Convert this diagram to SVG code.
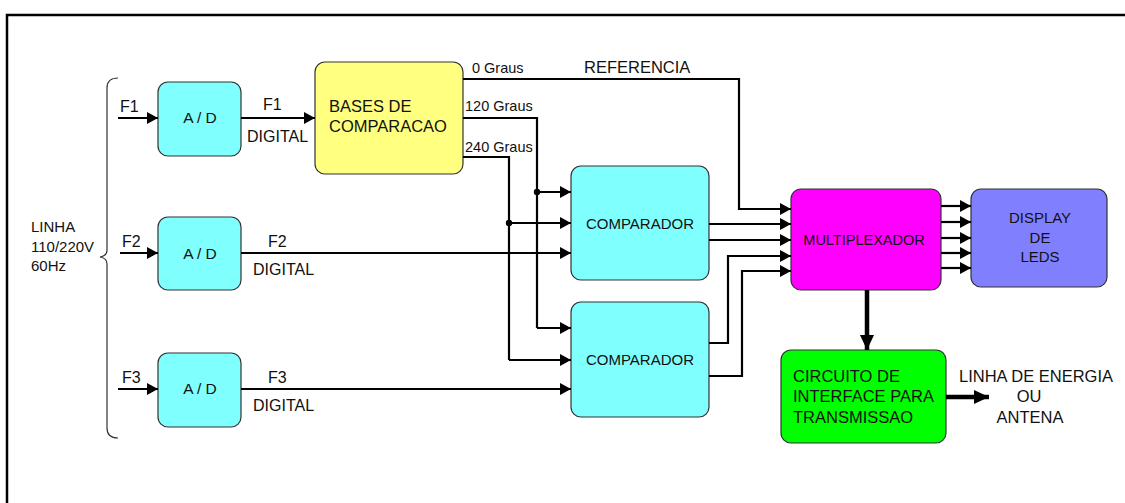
<svg xmlns="http://www.w3.org/2000/svg" width="1125" height="503" viewBox="0 0 1125 503">
<defs>
<marker id="arr" markerUnits="userSpaceOnUse" markerWidth="12" markerHeight="12" refX="11" refY="6" orient="auto">
<path d="M0,0 L11,6 L0,12 z" fill="#000"/>
</marker>
<marker id="arrb" markerUnits="userSpaceOnUse" markerWidth="16" markerHeight="16" refX="15" refY="8" orient="auto">
<path d="M0,1 L15,8 L0,15 z" fill="#000"/>
</marker>
</defs>
<style>
text{font-family:"Liberation Sans",Arial,sans-serif;fill:#111;}
.box{stroke:#333;stroke-width:1.2;}
.ad{fill:#80FFFF;}
.ln{fill:none;stroke:#000;stroke-width:2.2;}
.la{fill:none;stroke:#000;stroke-width:2.2;marker-end:url(#arr);}
.lb{fill:none;stroke:#000;stroke-width:4.5;marker-end:url(#arrb);}
.c{text-anchor:middle;}
</style>
<rect x="0" y="0" width="1125" height="503" fill="#fff"/>
<path d="M7,503 V15 H1125" fill="none" stroke="#000" stroke-width="2.5"/>

<g id="brace">
<path d="M118,78 Q107,78 107,88 V250 Q107,256 100,257 Q107,258 107,264 V428 Q107,438 118,438" fill="none" stroke="#333" stroke-width="1.2"/>
<text x="31" y="232" font-size="15">LINHA</text>
<text x="31" y="252" font-size="15">110/220V</text>
<text x="31" y="271" font-size="15">60Hz</text>
</g>

<g id="ad1">
<rect class="box ad" x="158" y="82" width="83" height="74" rx="10"/>
<text class="c" x="200" y="123" font-size="15.5">A / D</text>
</g>
<g id="ad2">
<rect class="box ad" x="158" y="217" width="83" height="73" rx="10"/>
<text class="c" x="200" y="259" font-size="15.5">A / D</text>
</g>
<g id="ad3">
<rect class="box ad" x="158" y="353" width="83" height="74" rx="10"/>
<text class="c" x="200" y="394" font-size="15.5">A / D</text>
</g>

<g id="bases">
<rect class="box" fill="#FFFF80" x="315" y="62" width="148" height="112" rx="10"/>
<text x="329" y="112" font-size="16.5">BASES DE</text>
<text x="329" y="132" font-size="16.5">COMPARACAO</text>
</g>

<g id="comp1">
<rect class="box ad" x="571" y="166" width="138" height="114" rx="10"/>
<text class="c" x="640" y="229" font-size="15">COMPARADOR</text>
</g>
<g id="comp2">
<rect class="box ad" x="571" y="302" width="138" height="115" rx="10"/>
<text class="c" x="640" y="365" font-size="15">COMPARADOR</text>
</g>

<g id="mux">
<rect class="box" fill="#FF00FF" x="791" y="189" width="150" height="101" rx="10"/>
<text class="c" x="864" y="245" font-size="14.5">MULTIPLEXADOR</text>
</g>

<g id="display">
<rect class="box" fill="#8080FF" x="971" y="189" width="136" height="98" rx="10"/>
<text class="c" x="1040" y="223" font-size="15">DISPLAY</text>
<text class="c" x="1040" y="243" font-size="15">DE</text>
<text class="c" x="1040" y="262" font-size="15">LEDS</text>
</g>

<g id="interface">
<rect class="box" fill="#00FF00" x="781" y="350" width="165" height="93" rx="10"/>
<text x="793" y="382" font-size="16.5">CIRCUITO DE</text>
<text x="793" y="402" font-size="16.5">INTERFACE PARA</text>
<text x="793" y="423" font-size="16.5">TRANSMISSAO</text>
</g>

<g id="output">
<text class="c" x="1036" y="382" font-size="16.5">LINHA DE ENERGIA</text>
<text class="c" x="1029" y="402" font-size="16.5">OU</text>
<text class="c" x="1030" y="423" font-size="16.5">ANTENA</text>
</g>

<g id="connectors">
<path class="la" d="M118,118 H158"/>
<path class="la" d="M120,253 H158"/>
<path class="la" d="M118,389 H158"/>
<path class="la" d="M241,118 H315"/>
<path class="la" d="M241,253 H571"/>
<path class="la" d="M241,389 H571"/>
<path class="la" d="M463,79 H739 V209 H791"/>
<path class="ln" d="M463,118 H537 V328"/>
<path class="la" d="M537,328 H571"/>
<path class="la" d="M537,192 H571"/>
<path class="ln" d="M463,157 H509 V360"/>
<path class="la" d="M509,360 H571"/>
<path class="la" d="M509,223 H571"/>
<circle cx="537" cy="192" r="3.2" fill="#000"/>
<circle cx="509" cy="223" r="3.2" fill="#000"/>
<path class="la" d="M709,224 H791"/>
<path class="la" d="M709,240 H791"/>
<path class="la" d="M709,343 H728 V256 H791"/>
<path class="la" d="M709,376 H742 V271 H791"/>
<path class="la" d="M941,206 H971"/>
<path class="la" d="M941,222 H971"/>
<path class="la" d="M941,238 H971"/>
<path class="la" d="M941,253 H971"/>
<path class="la" d="M941,268 H971"/>
<path class="lb" d="M867,290 V350"/>
<path class="lb" d="M946,397 H989"/>
<text x="120" y="112" font-size="16">F1</text>
<text x="122" y="247" font-size="16">F2</text>
<text x="122" y="383" font-size="16">F3</text>
<text x="263" y="110" font-size="16">F1</text>
<text x="247" y="142" font-size="16">DIGITAL</text>
<text x="268" y="247" font-size="16">F2</text>
<text x="253" y="275" font-size="16">DIGITAL</text>
<text x="268" y="383" font-size="16">F3</text>
<text x="253" y="411" font-size="16">DIGITAL</text>
<text x="472" y="73" font-size="14.5">0 Graus</text>
<text x="465" y="111" font-size="14.5">120 Graus</text>
<text x="465" y="152" font-size="14.5">240 Graus</text>
<text x="584" y="73" font-size="16.5">REFERENCIA</text>
</g>
</svg>
